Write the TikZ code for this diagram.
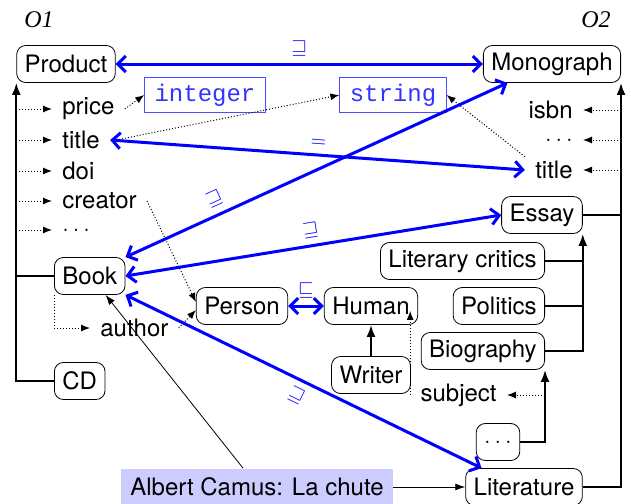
\documentclass[tikz,border=0pt]{standalone}
\usepackage{fontspec}
\setsansfont{TeX Gyre Heros}
\setmonofont{Liberation Mono}
\newfontfamily\ontofont{Liberation Serif}
\usetikzlibrary{arrows.meta}

\tikzset{
  cls/.style={draw, rounded corners=4.5pt, inner xsep=4pt, inner ysep=3pt, minimum height=18.5pt},
  attr/.style={inner xsep=5pt, inner ysep=2pt},
  dtype/.style={draw=blue!70, text=blue!80, font=\fontsize{12}{14}\selectfont\ttfamily, inner xsep=5pt, minimum height=17.5pt},
  isa/.style={line width=1pt, -{Latex[length=6pt,width=4.5pt]}},
  tree/.style={line width=1pt},
  prop/.style={densely dotted, line width=0.5pt, -{Latex[length=4.5pt,width=3.5pt]}},
  map/.style={blue, line width=1.5pt, {Straight Barb[length=4pt,width=8pt]}-{Straight Barb[length=4pt,width=8pt]}},
  rel/.style={text=blue, font=\fontsize{10}{12}\selectfont}
}

\begin{document}
\begin{tikzpicture}[x=0.5pt, y=-0.5pt, font=\fontsize{12}{14}\selectfont\sffamily]
    \useasboundingbox (0,0) rectangle (631,503);
    \node[font=\fontsize{12}{14}\selectfont\ontofont\itshape] (o1) at (39,20) {O1};
    \node[font=\fontsize{12}{14}\selectfont\ontofont\itshape] (o2) at (596,20) {O2};

    \node[cls] (prod) at (66,64) {Product};
    \node[cls] (mono) at (552,64) {Monograph};
    \node[dtype] (intg) at (205,95) {integer};
    \node[dtype] (strg) at (393,95) {string};

    \foreach \n/\lbl/\y in {price/price/109, ttl/title/140, doi/doi/171, creator/creator/201, ldots/$\ldots$/230} {
      \node[attr, anchor=west] (\n) at (52,\y) {\lbl};
      \draw[prop] (\n.west -| prod.south west) -- (\n.west);
    }
    \foreach \n/\lbl/\y in {isbn/isbn/110, rdots/$\ldots$/140, rttl/title/170} {
      \node[attr, anchor=east] (\n) at (583,\y) {\lbl};
      \draw[prop] (\n.east -| mono.south east) -- (\n.east);
    }

    \node[cls, anchor=west] (book) at (54,276) {Book};
    \node[cls, anchor=west] (cd) at (54,381) {CD};
    \node[attr, anchor=west] (author) at (90,328) {author};
    \node[cls] (person) at (242,306) {Person};
    \node[cls] (human) at (371,306) {Human};
    \node[cls] (writer) at (371,375) {Writer};

    \node[cls] (essay) at (542,215) {Essay};
    \node[cls, anchor=east] (critics) at (545,261) {Literary critics};
    \node[cls, anchor=east] (politics) at (545,306) {Politics};
    \node[cls, anchor=east] (bio) at (545,351) {Biography};
    \node[attr, anchor=east] (subject) at (507,395) {subject};
    \node[cls] (more) at (498,442) {$\ldots$};
    \node[cls] (lit) at (524,487) {Literature};
    \node[fill=blue!20, inner xsep=4.5pt, minimum height=18.5pt] (camus) at (257,487) {Albert Camus: La chute};

    \draw[isa] (cd.west) -| (prod.south west);
    \draw[tree] (book.west) -- (book.west -| prod.south west);
    \draw[prop] (book.south west) |- (author.west);
    \draw[prop] (creator.east) -- (person.175);
    \draw[prop] (author.east) -- (person.185);
    \draw[prop] (price.east) -- (intg.west);
    \draw[prop] ([xshift=3pt]ttl.east) -- (strg.west);
    \draw[prop] (rttl.north west) -- (strg.east);

    \draw[isa] (lit.east) -| (mono.south east);
    \draw[tree] (essay.east) -- (essay.east -| mono.south east);
    \draw[isa] (bio.east) -| (essay.south east);
    \draw[tree] (critics.east) -- (critics.east -| essay.south east);
    \draw[tree] (politics.east) -- (politics.east -| essay.south east);
    \draw[isa] (more.east) -| (bio.south east);
    \draw[prop] (subject.east -| bio.south east) -- (subject.east);
    \draw[prop] (subject.west) -- (subject.west |- human.-6);
    \draw[isa] (writer) -- (human);

    \draw[-{Latex[length=5pt,width=3.5pt]}] (camus) -- (lit);
    \draw[-{Latex[length=5pt,width=3.5pt]}] ([xshift=-7pt]camus.north) -- (book.-50);

    \draw[map] (prod) -- (mono) node[midway, above, rel] {$\sqsupseteq$};
    \draw[map] (ttl.east) -- (rttl.west) node[midway, above, sloped, rel] {$=$};
    \draw[map] (book.north east) -- (mono.203) node[pos=.25, above, sloped, rel] {$\sqsupseteq$};
    \draw[map] (book.east) -- (essay.west) node[midway, above, sloped, rel] {$\sqsupseteq$};
    \draw[map] (book.south east) -- (lit.156) node[midway, below, sloped, rel] {$\sqsupseteq$};
    \draw[map] (person) -- (human) node[midway, above, rel] {$\sqsubseteq$};
  \end{tikzpicture}
\end{document}
